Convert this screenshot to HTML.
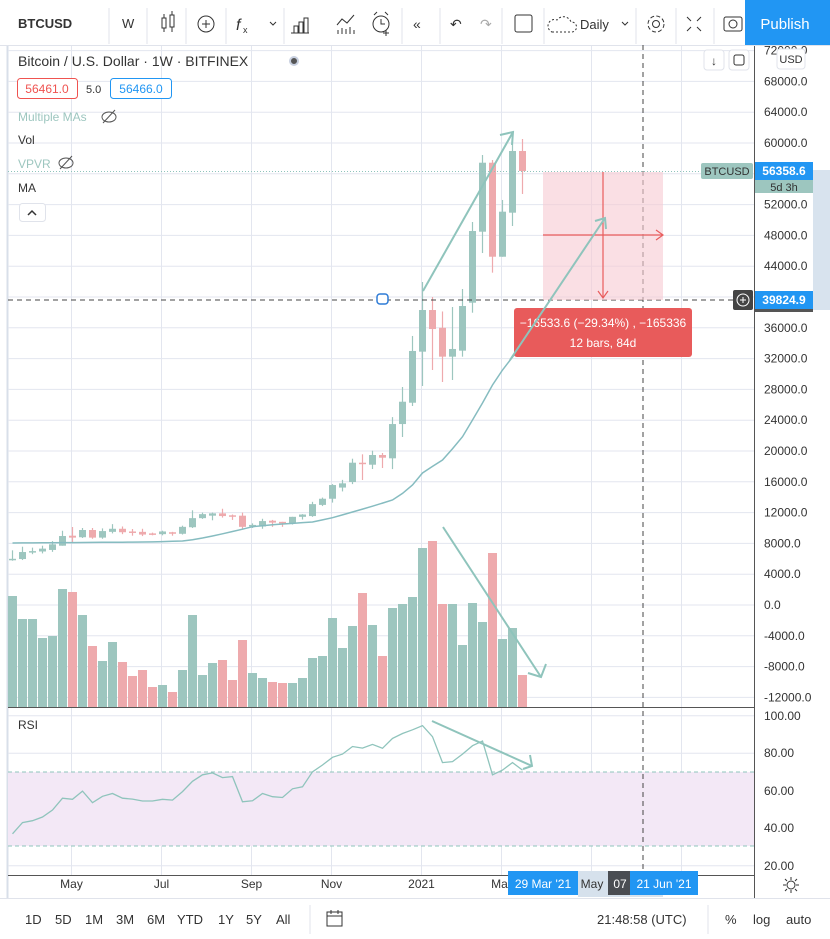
<!DOCTYPE html>
<html><head><meta charset="utf-8">
<style>
html,body{margin:0;padding:0;background:#fff;width:830px;height:939px;overflow:hidden;font-family:"Liberation Sans",sans-serif;}
svg text{font-family:"Liberation Sans",sans-serif;}
</style></head>
<body>
<svg id="chart" width="830" height="939" viewBox="0 0 830 939" xmlns="http://www.w3.org/2000/svg">
  <rect x="0" y="0" width="830" height="939" fill="#ffffff"/>
  <line x1="7.5" y1="45" x2="7.5" y2="898" stroke="#d8dfe9" stroke-width="2"/>
  <g id="grid"></g>
  <rect x="8" y="772" width="746" height="74" fill="#f3e8f6"/>
  <line x1="8" y1="772" x2="754" y2="772" stroke="#8fc4bc" stroke-dasharray="4,3"/>
  <line x1="8" y1="846" x2="754" y2="846" stroke="#8fc4bc" stroke-dasharray="4,3"/>
  <g id="volumes"></g>
  <g id="candles"></g>
  <path id="maLine" fill="none" stroke="#86bcc0" stroke-width="1.5"/>
  <path id="rsiLine" fill="none" stroke="#8fc4bc" stroke-width="1.3"/>
  <line x1="8" y1="707.5" x2="754" y2="707.5" stroke="#555" stroke-width="1"/>
  <line x1="8" y1="875.5" x2="754" y2="875.5" stroke="#555" stroke-width="1"/>
  <line x1="754.5" y1="45" x2="754.5" y2="898" stroke="#555" stroke-width="1"/>
  <line x1="0" y1="898.5" x2="830" y2="898.5" stroke="#e0e3eb"/>
  <line x1="0" y1="45.5" x2="830" y2="45.5" stroke="#e0e3eb"/>
  <line x1="8" y1="171.5" x2="754" y2="171.5" stroke="#8fc4bc" stroke-dasharray="1,2"/>
  <line x1="643" y1="45" x2="643" y2="875" stroke="#444" stroke-dasharray="5,4"/>
  <line x1="8" y1="300" x2="754" y2="300" stroke="#444" stroke-dasharray="5,4"/>
  <g>
    <rect x="543" y="172" width="120" height="128" fill="#f7c9d2" opacity="0.6"/>
    <line x1="603" y1="172" x2="603" y2="298" stroke="#e85c5c" stroke-width="1.2"/>
    <polyline points="598,291 603,298 608,291" fill="none" stroke="#e85c5c" stroke-width="1.2"/>
    <line x1="543" y1="235" x2="662" y2="235" stroke="#e85c5c" stroke-width="1.2"/>
    <polyline points="656,230 663,235 656,240" fill="none" stroke="#e85c5c" stroke-width="1.2"/>
    <rect x="514" y="308" width="178" height="49" rx="3" fill="#e85b5b"/>
    <text x="603" y="327" text-anchor="middle" font-size="12" fill="#fff">−16533.6 (−29.34%) , −165336</text>
    <text x="603" y="347" text-anchor="middle" font-size="12" fill="#fff">12 bars, 84d</text>
  </g>
  <g stroke="#8fc4bc" stroke-width="2" fill="none">
    <line x1="423" y1="291" x2="513" y2="132"/>
    <polyline points="500,135 513,132 512,145"/>
    <line x1="510" y1="360" x2="605" y2="218"/>
    <polyline points="595,221 605,218 606,229"/>
    <line x1="443" y1="527" x2="541" y2="677"/>
    <polyline points="528,673 541,677 546,664"/>
    <line x1="432" y1="721" x2="532" y2="766"/>
    <polyline points="523,769 532,766 530,755"/>
  </g>
  <rect x="377" y="294" width="11" height="10" rx="3" fill="#fff" stroke="#2e7bd6" stroke-width="1.5"/>
  <g id="yaxis"></g>
  <g font-size="12" fill="#333">
    <text x="764" y="720">100.00</text><text x="764" y="757">80.00</text><text x="764" y="795">60.00</text>
    <text x="764" y="832">40.00</text><text x="764" y="870">20.00</text>
  </g>
  <rect x="813" y="170" width="17" height="140" fill="#d8e3ee"/>
  <g>
    <rect x="701" y="163" width="52" height="16" rx="2" fill="#9dc6bf"/>
    <text x="727" y="175" text-anchor="middle" font-size="11" fill="#333">BTCUSD</text>
    <rect x="755" y="162" width="58" height="18" fill="#2196f3"/>
    <text x="784" y="175" text-anchor="middle" font-size="12" fill="#fff" font-weight="bold">56358.6</text>
    <rect x="755" y="180" width="58" height="13" fill="#9dc6bf"/>
    <text x="784" y="191" text-anchor="middle" font-size="11" fill="#333">5d 3h</text>
  </g>
  <g>
    <rect x="755" y="291" width="58" height="18" fill="#2196f3"/>
    <rect x="755" y="309" width="58" height="3" fill="#555"/>
    <text x="784" y="304" text-anchor="middle" font-size="12" fill="#fff" font-weight="bold">39824.9</text>
    <rect x="733" y="290" width="20" height="20" rx="2" fill="#444"/>
    <circle cx="743" cy="300" r="6" fill="none" stroke="#fff"/>
    <line x1="740" y1="300" x2="746" y2="300" stroke="#fff"/><line x1="743" y1="297" x2="743" y2="303" stroke="#fff"/>
  </g>
  <g>
    <rect x="777" y="49" width="28" height="20" rx="3" fill="#fff" stroke="#e0e3eb"/>
    <text x="791" y="63" text-anchor="middle" font-size="11" fill="#333">USD</text>
  </g>
  <g>
    <rect x="704" y="50" width="20" height="20" rx="3" fill="#fff" stroke="#e0e3eb"/>
    <text x="714" y="65" text-anchor="middle" font-size="12" fill="#333">↓</text>
    <rect x="729" y="50" width="20" height="20" rx="3" fill="#fff" stroke="#e0e3eb"/>
    <rect x="734" y="55" width="10" height="10" rx="2" fill="none" stroke="#333"/>
  </g>
  <g id="xaxis" font-size="12" fill="#333"></g>
  <rect x="578" y="871" width="85" height="26" fill="#d6e1ec"/>
  <g>
    <rect x="508" y="871" width="70" height="24" fill="#2196f3"/>
    <text x="543" y="888" text-anchor="middle" font-size="12" fill="#fff">29 Mar '21</text>
    <text x="592" y="888" text-anchor="middle" font-size="12" fill="#333">May</text>
    <rect x="608" y="871" width="23" height="24" fill="#4a4d52"/>
    <text x="620" y="888" text-anchor="middle" font-size="12" fill="#fff">07</text>
    <rect x="630" y="871" width="68" height="24" fill="#2196f3"/>
    <text x="664" y="888" text-anchor="middle" font-size="12" fill="#fff">21 Jun '21</text>
  </g>
  <g stroke="#333" fill="none">
    <circle cx="791" cy="885" r="4"/>
    <path d="M791 877v3M791 890v3M783 885h3M796 885h3M785 879l2 2M795 889l2 2M785 891l2-2M795 881l2-2"/>
  </g>
  <g>
    <text x="18" y="66" font-size="14" fill="#333">Bitcoin / U.S. Dollar · 1W · BITFINEX</text>
    <circle cx="294" cy="61" r="4" fill="#555" stroke="#c8d0e0" stroke-width="2"/>
    <rect x="17.5" y="78.5" width="60" height="20" rx="3" fill="#fff" stroke="#ef5350"/>
    <text x="47" y="93" text-anchor="middle" font-size="12" fill="#ef5350">56461.0</text>
    <text x="86" y="93" font-size="11" fill="#333">5.0</text>
    <rect x="110.5" y="78.5" width="61" height="20" rx="3" fill="#fff" stroke="#2196f3"/>
    <text x="141" y="93" text-anchor="middle" font-size="12" fill="#2196f3">56466.0</text>
    <text x="18" y="121" font-size="12" fill="#9dc6bf">Multiple MAs</text>
    <g stroke="#555" fill="none"><ellipse cx="109" cy="117" rx="7" ry="5"/><line x1="103" y1="123" x2="115" y2="110"/></g>
    <text x="18" y="144" font-size="12" fill="#333">Vol</text>
    <text x="18" y="168" font-size="12" fill="#9dc6bf">VPVR</text>
    <g stroke="#555" fill="none"><ellipse cx="66" cy="163" rx="7" ry="5"/><line x1="60" y1="169" x2="72" y2="156"/></g>
    <text x="18" y="192" font-size="12" fill="#333">MA</text>
    <rect x="19.5" y="203.5" width="26" height="18" rx="3" fill="#fff" stroke="#e0e3eb"/>
    <polyline points="28,215 32,211 36,215" fill="none" stroke="#333" stroke-width="1.5"/>
    <text x="18" y="729" font-size="12" fill="#333">RSI</text>
  </g>
  <g font-size="13" fill="#333">
    <text x="18" y="28" font-weight="bold">BTCUSD</text>
    <g stroke="#e0e3eb"><line x1="109" y1="8" x2="109" y2="44"/><line x1="147" y1="8" x2="147" y2="44"/><line x1="186" y1="8" x2="186" y2="44"/><line x1="226" y1="8" x2="226" y2="44"/><line x1="284" y1="8" x2="284" y2="44"/><line x1="402" y1="8" x2="402" y2="44"/><line x1="440" y1="8" x2="440" y2="44"/><line x1="502" y1="8" x2="502" y2="44"/><line x1="544" y1="8" x2="544" y2="44"/><line x1="636" y1="8" x2="636" y2="44"/><line x1="676" y1="8" x2="676" y2="44"/><line x1="714" y1="8" x2="714" y2="44"/></g>
    <text x="122" y="28">W</text>
    <g stroke="#333" fill="none"><rect x="162" y="18" width="4" height="10"/><rect x="170" y="15" width="4" height="12"/><path d="M164 14v4M164 28v4M172 11v4M172 27v5"/></g>
    <g stroke="#333" fill="none"><circle cx="206" cy="24" r="8"/><path d="M202 24h8M206 20v8"/></g>
    <text x="236" y="30" font-style="italic" font-size="16">f</text>
    <text x="243" y="33" font-size="9">x</text>
    <polyline points="270,22 273,25 276,22" fill="none" stroke="#333"/>
    <g stroke="#333" fill="none"><path d="M291 33h18M294 33v-7h4v7M299 33v-11h4v11M304 33v-15h4v15"/></g>
    <g stroke="#333" fill="none"><path d="M337 25l5-6 5 4 7-8M338 34v-4M342 34v-6M346 34v-5M350 34v-7M354 34v-4"/></g>
    <g stroke="#333" fill="none"><circle cx="381" cy="24" r="8"/><path d="M381 19v5h4M374 15l3-3M388 15l-3-3M386 30v6M383 33h6"/></g>
    <text x="413" y="29" font-size="14">«</text>
    <text x="450" y="29" font-size="14">↶</text>
    <text x="480" y="29" font-size="14" fill="#aaa">↷</text>
    <rect x="515" y="15" width="17" height="17" rx="2" fill="none" stroke="#333"/>
    <path d="M552 32h20a5 5 0 0 0 -1 -10a8 8 0 0 0 -14 -2a6 6 0 0 0 -5 12z" fill="none" stroke="#333" stroke-dasharray="2,2"/>
    <text x="580" y="29">Daily</text>
    <polyline points="622,22 625,25 628,22" fill="none" stroke="#333"/>
    <g stroke="#333" fill="none"><circle cx="656" cy="24" r="3.5"/><circle cx="656" cy="24" r="8" stroke-dasharray="4,2.3"/></g>
    <g stroke="#333" fill="none"><path d="M687 17l4 4M701 17l-4 4M687 31l4-4M701 31l-4-4"/></g>
    <g stroke="#333" fill="none"><rect x="724" y="17" width="18" height="14" rx="2"/><circle cx="733" cy="24" r="4"/></g>
    <rect x="745" y="0" width="85" height="45" fill="#2196f3"/>
    <text x="785" y="29" text-anchor="middle" font-size="15" fill="#fff">Publish</text>
  </g>
  <g font-size="13" fill="#333">
    <text x="25" y="924">1D</text>
    <text x="55" y="924">5D</text>
    <text x="85" y="924">1M</text>
    <text x="116" y="924">3M</text>
    <text x="147" y="924">6M</text>
    <text x="177" y="924">YTD</text>
    <text x="218" y="924">1Y</text>
    <text x="246" y="924">5Y</text>
    <text x="276" y="924">All</text>
    <line x1="310" y1="905" x2="310" y2="934" stroke="#e0e3eb"/>
    <g stroke="#333" fill="none"><rect x="327" y="912" width="15" height="14"/><path d="M327 916h15M331 910v4M338 910v4"/></g>
    <text x="597" y="924">21:48:58 (UTC)</text>
    <line x1="708" y1="905" x2="708" y2="934" stroke="#e0e3eb"/>
    <text x="725" y="924">%</text>
    <text x="753" y="924">log</text>
    <text x="786" y="924">auto</text>
  </g>
</svg>
<script>
const opens  = [5850,5970,6880,6950,7150,7700,9000,8800,9740,8750,9500,9900,9550,9500,9300,9200,9450,9250,10100,11280,11600,11900,11650,11600,10200,10200,10950,10800,10600,11450,11550,13000,13800,15250,15970,18480,18220,19480,19050,23500,26270,32900,38310,36000,32250,33030,39260,48480,57440,45230,50950,58960];
const highs  = [7100,7570,7450,7700,8300,9640,10130,10000,10000,9950,10500,10200,9870,9900,9400,9650,9500,10300,12300,12000,12000,12500,11750,12000,10600,11200,11050,10800,11450,11800,13400,13950,15700,16250,19000,19570,20040,19740,24400,28310,34940,41950,40000,38120,38700,41040,49740,58440,57790,52600,61430,60520];
const lows   = [5750,5840,6600,6700,6900,7700,8050,8700,8600,8600,9300,9200,9000,8950,9050,9050,9000,9150,10000,11180,11000,11350,11050,9900,10000,9900,10150,10150,10450,11100,11450,12850,13300,14750,15700,16235,17660,17790,17650,21820,25845,28440,30520,28960,29220,32250,37960,45710,43160,45230,49220,53380];
const closes = [6000,6880,7000,7320,7880,8960,8750,9740,8750,9600,9900,9450,9430,9150,9150,9550,9250,10150,11280,11800,11900,11550,11550,10150,10400,10900,10700,10600,11450,11750,13100,13800,15580,15800,18480,18310,19480,19130,23500,26400,32990,38310,35840,32250,33250,38830,48570,57440,45230,51080,58960,56358];
const volumes = [111,88,88,69,71,118,115,92,61,46,65,45,31,37,20,22,15,37,92,32,44,47,27,67,34,29,25,24,24,29,49,51,89,59,81,114,82,51,99,103,110,159,166,103,103,62,104,85,154,68,79,32];
const maValues = [8050,8060,8070,8080,8090,8100,8110,8120,8130,8140,8150,8160,8170,8180,8200,8230,8270,8310,8480,8700,8960,9250,9550,9850,10170,10300,10420,10520,10600,10700,10780,11050,11340,11700,12080,12450,12830,13230,13640,14500,15590,17140,18000,18830,20300,21860,24030,26240,28570,30520,32210,33770];
const rsiValues = [37,43,44,46,49.7,56,55.4,59.8,53.6,57,58.5,56,55.5,54.5,54.5,55.4,55,59.5,65,68.5,69.5,67,67.5,54.1,54.6,58.5,56.8,56.4,61,62.1,70.1,73.7,77.8,79.5,83.6,82.7,84.7,82.6,87.9,90.5,92.5,94.7,88.8,75,75.5,79.5,84,86.5,68.5,71,75,71];
const priceTicks = [72000,68000,64000,60000,56000,52000,48000,44000,40000,36000,32000,28000,24000,20000,16000,12000,8000,4000,0,-4000,-8000,-12000];
const timeLabels = ["May","Jul","Sep","Nov","2021","Mar"];
const timeLabelIdx = [6,15,24,32,41,49];

const NS = "http://www.w3.org/2000/svg";
const UP = "#9dc6bf", DN = "#eeaaad";
function px(i){ return 12.5 + 10*i; }
function py(p){ return 143 + (60000 - p)*0.0077; }
function ry(r){ return 715.7 + (100 - r)*1.875; }
function vy(v){ return 707 - v; }
function mk(tag, attrs, parent){ const e=document.createElementNS(NS,tag); for(const k in attrs) e.setAttribute(k,attrs[k]); parent.appendChild(e); return e; }

const grid = document.getElementById('grid');
priceTicks.forEach(function(t){
  const l = mk('line',{x1:8,x2:754,y1:py(t),y2:py(t),stroke:'#e3e6ef'},grid);
  
  
});
[20,40,60,80,100].forEach(function(r){
  const l = mk('line',{x1:8,x2:754,y1:ry(r),y2:ry(r),stroke:'#e3e6ef'},grid);
  
  
});
timeLabelIdx.concat([58,67]).forEach(function(i){
  const x = px(i)-1;
  const l = mk('line',{x1:x,x2:x,y1:46,y2:875,stroke:'#e3e6ef'},grid);
  
  
});

const yaxis = document.getElementById('yaxis');
priceTicks.forEach(function(t){
  const tx = mk('text',{x:764,y:py(t)+4,'font-size':12,fill:'#333'},yaxis);
  tx.textContent = t.toFixed(1);
  
  
});
const xaxis = document.getElementById('xaxis');
timeLabels.forEach(function(lbl,k){
  const tx = mk('text',{x:px(timeLabelIdx[k])-1,y:888,'text-anchor':'middle'},xaxis);
  tx.textContent = lbl;
  
  
});

const vg = document.getElementById('volumes');
volumes.forEach(function(v,i){
  const up = closes[i] >= opens[i];
  const r = mk('rect',{x:px(i)-4.5,y:vy(v),width:9,height:v,fill:up?UP:DN},vg);
  
  
});

const cg = document.getElementById('candles');
opens.forEach(function(o,i){
  const c = closes[i], up = c >= o, col = up?UP:DN;
  const g = mk('g',{},cg);
  
  
  mk('line',{x1:px(i),x2:px(i),y1:py(highs[i]),y2:py(lows[i]),stroke:col,'stroke-width':1.2},g);
  const top = py(Math.max(o,c)), bot = py(Math.min(o,c));
  mk('rect',{x:px(i)-3.5,y:top,width:7,height:Math.max(1.5,bot-top),fill:col},g);
});

let d = '';
maValues.forEach(function(v,i){ d += (i?'L':'M') + px(i) + ' ' + py(v).toFixed(1) + ' '; });
document.getElementById('maLine').setAttribute('d', d);
let d2 = '';
rsiValues.forEach(function(v,i){ d2 += (i?'L':'M') + px(i) + ' ' + ry(v).toFixed(1) + ' '; });
document.getElementById('rsiLine').setAttribute('d', d2);
</script>
</body></html>
